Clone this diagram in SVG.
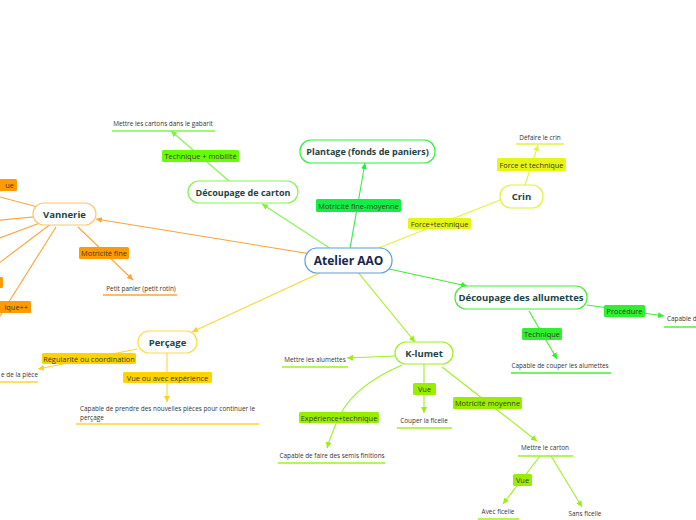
<svg xmlns="http://www.w3.org/2000/svg" width="696" height="520" viewBox="0 0 696 520">
<style>
.ln{fill:none;stroke-width:1.1}
.nd{fill:#fff;stroke-width:1.2}
.nt{font-family:"Open Sans","Noto Sans",sans-serif;font-weight:bold;fill:#1d4444;text-anchor:middle}
.lb{font-family:"Open Sans","Noto Sans",sans-serif;font-size:7.4px;fill:#3a3a2a;text-anchor:middle}
.lf{font-family:"Open Sans","Noto Sans",sans-serif;font-size:6.4px;fill:#333;text-anchor:middle}
.ul{stroke-width:1.4;fill:none}
.o{stroke:#f9a43a}.oF{fill:#ff9a00}
.g1{stroke:#84f54a}.g1F{fill:#66ff00}
.g2{stroke:#33ee44}.g2F{fill:#11ee44}
.y1{stroke:#e4f23a}.y1F{fill:#e6f514}
.g3{stroke:#44ee33}.g3F{fill:#2ef02e}
.k{stroke:#9ff020}.kF{fill:#99ee00}
.p{stroke:#ffd633}.pF{fill:#ffd200}
</style>
<defs>
<marker id="aO" markerUnits="userSpaceOnUse" markerWidth="7" markerHeight="7" refX="6" refY="3" orient="auto"><path d="M0,0 L6,3 L0,6 z" fill="#f9a43a"/></marker>
<marker id="aG1" markerUnits="userSpaceOnUse" markerWidth="7" markerHeight="7" refX="6" refY="3" orient="auto"><path d="M0,0 L6,3 L0,6 z" fill="#7ef040"/></marker>
<marker id="aG2" markerUnits="userSpaceOnUse" markerWidth="7" markerHeight="7" refX="6" refY="3" orient="auto"><path d="M0,0 L6,3 L0,6 z" fill="#22ee44"/></marker>
<marker id="aY" markerUnits="userSpaceOnUse" markerWidth="7" markerHeight="7" refX="6" refY="3" orient="auto"><path d="M0,0 L6,3 L0,6 z" fill="#e4f23a"/></marker>
<marker id="aG3" markerUnits="userSpaceOnUse" markerWidth="7" markerHeight="7" refX="6" refY="3" orient="auto"><path d="M0,0 L6,3 L0,6 z" fill="#33ee33"/></marker>
<marker id="aK" markerUnits="userSpaceOnUse" markerWidth="7" markerHeight="7" refX="6" refY="3" orient="auto"><path d="M0,0 L6,3 L0,6 z" fill="#99ee11"/></marker>
<marker id="aP" markerUnits="userSpaceOnUse" markerWidth="7" markerHeight="7" refX="6" refY="3" orient="auto"><path d="M0,0 L6,3 L0,6 z" fill="#ffd020"/></marker>
</defs>

<g id="connectors">
<line class="ln o" x1="348" y1="260" x2="96" y2="219" marker-end="url(#aO)"/>
<line class="ln g1" x1="348" y1="260" x2="262" y2="204" marker-end="url(#aG1)"/>
<line class="ln g2" x1="348" y1="260" x2="365" y2="163" marker-end="url(#aG2)"/>
<line class="ln y1" x1="348" y1="260" x2="500" y2="200"/>
<line class="ln g3" x1="348" y1="260" x2="467" y2="286" marker-end="url(#aG3)"/>
<line class="ln k" x1="348" y1="260" x2="415" y2="342" marker-end="url(#aK)"/>
<line class="ln p" x1="348" y1="260" x2="192" y2="332" marker-end="url(#aP)"/>
<line class="ln o" x1="64" y1="214" x2="-30" y2="189"/>
<line class="ln o" x1="64" y1="214" x2="-30" y2="223"/>
<line class="ln o" x1="64" y1="214" x2="-30" y2="249"/>
<line class="ln o" x1="64" y1="214" x2="-30" y2="285"/>
<line class="ln o" x1="56" y1="227" x2="-5" y2="324"/>
<line class="ln o" x1="78" y1="227" x2="133" y2="280" marker-end="url(#aO)"/>
<line class="ln g1" x1="229" y1="181" x2="171" y2="131" marker-end="url(#aG1)"/>
<line class="ln y1" x1="525" y1="185" x2="538" y2="145" marker-end="url(#aY)"/>
<line class="ln g3" x1="587" y1="305" x2="664" y2="316" marker-end="url(#aG3)"/>
<line class="ln g3" x1="529" y1="311" x2="557" y2="359" marker-end="url(#aG3)"/>
<line class="ln k" x1="395" y1="356" x2="347" y2="358" marker-end="url(#aK)"/>
<line class="ln k" x1="424" y1="364" x2="424" y2="413" marker-end="url(#aK)"/>
<line class="ln k" x1="442" y1="367" x2="537" y2="441" marker-end="url(#aK)"/>
<path class="ln k" d="M402,365 C372,378 350,395 340,415 C334,428 330,438 327,448" marker-end="url(#aK)"/>
<line class="ln k" x1="540" y1="456" x2="503" y2="504" marker-end="url(#aK)"/>
<line class="ln k" x1="551" y1="456" x2="582" y2="507" marker-end="url(#aK)"/>
<line class="ln p" x1="137" y1="349" x2="38" y2="369" marker-end="url(#aP)"/>
<line class="ln p" x1="167" y1="353" x2="167" y2="402" marker-end="url(#aP)"/>
</g>

<g id="labels">
<rect class="oF" x="-10" y="179" width="27" height="12" rx="1.5"/><text class="lb" x="14" y="188" style="text-anchor:end">ue</text>
<rect class="oF" x="-20" y="277" width="23" height="11" rx="1.5"/>
<rect class="oF" x="-20" y="301" width="51" height="12" rx="1.5"/><text class="lb" x="28" y="310" style="text-anchor:end">ique++</text>
<rect class="oF" x="79" y="247" width="50" height="12" rx="1.5"/><text class="lb" x="104" y="256">Motricité fine</text>
<rect class="g1F" x="162" y="150" width="77" height="12" rx="1.5"/><text class="lb" x="200.5" y="159">Technique + mobilité</text>
<rect class="g2F" x="316" y="199" width="85" height="13" rx="1.5"/><text class="lb" x="358.5" y="208.5">Motricité fine-moyenne</text>
<rect class="y1F" x="408" y="218" width="63" height="11" rx="1.5"/><text class="lb" x="439.5" y="226.5">Force+technique</text>
<rect class="y1F" x="497" y="158" width="69" height="13" rx="1.5"/><text class="lb" x="531.5" y="167.5">Force et technique</text>
<rect class="g3F" x="604" y="305" width="41" height="12" rx="1.5"/><text class="lb" x="624.5" y="314">Procédure</text>
<rect class="g3F" x="522" y="328" width="40" height="12" rx="1.5"/><text class="lb" x="542" y="337">Technique</text>
<rect class="kF" x="413" y="383" width="23" height="12" rx="1.5"/><text class="lb" x="424.5" y="392">Vue</text>
<rect class="kF" x="299" y="412" width="80" height="11" rx="1.5"/><text class="lb" x="339" y="420.5">Expérience+technique</text>
<rect class="kF" x="453" y="397" width="69" height="12" rx="1.5"/><text class="lb" x="487.5" y="406">Motricité moyenne</text>
<rect class="kF" x="513" y="474" width="19" height="12" rx="1.5"/><text class="lb" x="522.5" y="483">Vue</text>
<rect class="pF" x="42" y="353" width="94" height="11" rx="1.5"/><text class="lb" x="89" y="361.5">Régularité ou coordination</text>
<rect class="pF" x="123" y="372" width="89" height="11" rx="1.5"/><text class="lb" x="167.5" y="380.5">Vue ou avec expérience</text>
</g>

<g id="leaves">
<g id="leaf-gabarit"><text class="lf" x="163" y="126">Mettre les cartons dans le gabarit</text><line class="ul g1" x1="112" y1="131" x2="215" y2="131"/></g>
<g id="leaf-panier"><text class="lf" x="141" y="291">Petit panier (petit rotin)</text><line class="ul o" x1="103" y1="295" x2="177" y2="295"/></g>
<g id="leaf-crin"><text class="lf" x="540" y="140">Défaire le crin</text><line class="ul y1" x1="516" y1="144" x2="564" y2="144"/></g>
<g id="leaf-capable-d"><text class="lf" x="667" y="321" style="text-anchor:start">Capable d</text><line class="ul g3" x1="664" y1="327" x2="696" y2="327"/></g>
<g id="leaf-couper-allumettes"><text class="lf" x="560" y="368">Capable de couper les alumettes</text><line class="ul g3" x1="511" y1="373" x2="611" y2="373"/></g>
<g id="leaf-mettre-alumettes"><text class="lf" x="315" y="362">Mettre les alumettes</text><line class="ul k" x1="282" y1="367" x2="348" y2="367"/></g>
<g id="leaf-ficelle"><text class="lf" x="424" y="423">Couper la ficelle</text><line class="ul k" x1="397" y1="428" x2="452" y2="428"/></g>
<g id="leaf-semis"><text class="lf" x="332" y="458">Capable de faire des semis finitions</text><line class="ul k" x1="278" y1="463" x2="385" y2="463"/></g>
<g id="leaf-carton"><text class="lf" x="545" y="450">Mettre le carton</text><line class="ul k" x1="518" y1="456" x2="573" y2="456"/></g>
<g id="leaf-avec"><text class="lf" x="498" y="514">Avec ficelle</text><line class="ul k" x1="478" y1="519" x2="519" y2="519"/></g>
<g id="leaf-sans"><text class="lf" x="585" y="516">Sans ficelle</text></g>
<g id="leaf-piece"><text class="lf" x="1" y="377" style="text-anchor:start">e de la pièce</text><line class="ul p" x1="0" y1="382" x2="38" y2="382"/></g>
<g id="leaf-prendre"><text class="lf" x="80" y="411" style="text-anchor:start">Capable de prendre des nouvelles pièces pour continuer le</text><text class="lf" x="80" y="420" style="text-anchor:start">perçage</text><line class="ul p" x1="76" y1="424" x2="259" y2="424"/></g>
</g>

<g id="node-central"><rect class="nd" x="305" y="248" width="87" height="25" rx="12" stroke="#5aa0dd" stroke-width="1.5"/><text class="nt" x="348.5" y="265" font-size="12" style="fill:#15284b">Atelier AAO</text></g>
<g id="node-vannerie"><rect class="nd" x="33" y="203" width="63" height="22" rx="11" stroke="#ffc870"/><text class="nt" x="64.5" y="217.5" font-size="9.5">Vannerie</text></g>
<g id="node-carton"><rect class="nd" x="188" y="181" width="110" height="22" rx="11" stroke="#84f54a"/><text class="nt" x="243" y="195.5" font-size="9">Découpage de carton</text></g>
<g id="node-plantage"><rect class="nd" x="300" y="140" width="135" height="23" rx="11" stroke="#33ee44"/><text class="nt" x="367.5" y="155" font-size="9">Plantage (fonds de paniers)</text></g>
<g id="node-crin"><rect class="nd" x="500" y="185" width="43" height="23" rx="11" stroke="#e4f23a"/><text class="nt" x="521.5" y="200" font-size="9.5">Crin</text></g>
<g id="node-allumettes"><rect class="nd" x="455" y="286" width="132" height="23" rx="11" stroke="#44ee33"/><text class="nt" x="521" y="301" font-size="9.5">Découpage des allumettes</text></g>
<g id="node-klumet"><rect class="nd" x="395" y="342" width="58" height="22" rx="11" stroke="#9ff020"/><text class="nt" x="424" y="356.5" font-size="9.5">K-lumet</text></g>
<g id="node-percage"><rect class="nd" x="138" y="331" width="59" height="22" rx="11" stroke="#ffdd44"/><text class="nt" x="167.5" y="345.5" font-size="9.5">Perçage</text></g>
</svg>
